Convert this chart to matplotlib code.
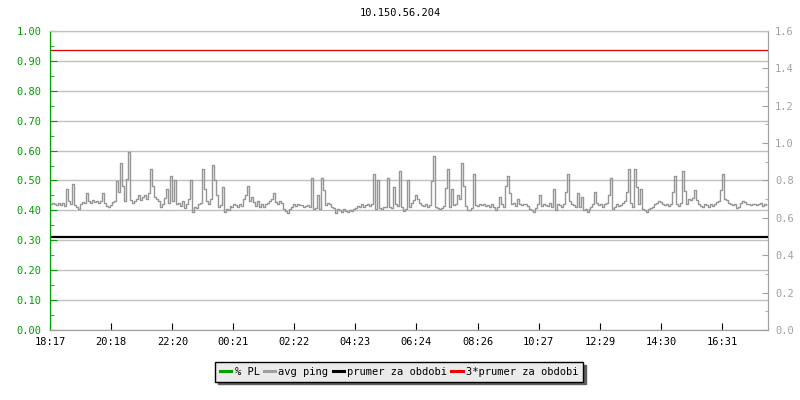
import numpy as np
import matplotlib
matplotlib.use('Agg')
from matplotlib import pyplot as plt
from matplotlib.ticker import MultipleLocator, FormatStrFormatter

title = '10.150.56.204'
tick_labels = ['18:17', '20:18', '22:20', '00:21', '02:22', '04:23',
               '06:24', '08:26', '10:27', '12:29', '14:30', '16:31']
tick_minutes = [0, 121, 243, 364, 485, 606, 727, 849, 970, 1092, 1213, 1334]
span_minutes = 1425

# avg ping [ms] (right axis)
ping_ms = [
    0.672, 0.680, 0.675, 0.668, 0.682, 0.670, 0.678, 0.665, 0.752, 0.690, 0.672, 0.781,
    0.668, 0.660, 0.645, 0.675, 0.685, 0.678, 0.731, 0.690, 0.682, 0.695, 0.685, 0.690,
    0.682, 0.688, 0.735, 0.680, 0.665, 0.658, 0.670, 0.685, 0.690, 0.799, 0.740, 0.894,
    0.770, 0.690, 0.806, 0.951, 0.695, 0.678, 0.690, 0.700, 0.720, 0.695, 0.710, 0.725,
    0.700, 0.735, 0.862, 0.770, 0.710, 0.700, 0.692, 0.660, 0.672, 0.705, 0.752, 0.680,
    0.824, 0.690, 0.802, 0.672, 0.680, 0.665, 0.690, 0.655, 0.672, 0.700, 0.802, 0.630,
    0.660, 0.655, 0.672, 0.680, 0.862, 0.752, 0.690, 0.672, 0.700, 0.883, 0.802, 0.720,
    0.660, 0.668, 0.765, 0.630, 0.650, 0.642, 0.665, 0.660, 0.672, 0.670, 0.660, 0.675,
    0.665, 0.700, 0.722, 0.770, 0.690, 0.710, 0.685, 0.665, 0.692, 0.660, 0.675, 0.660,
    0.675, 0.680, 0.690, 0.700, 0.731, 0.685, 0.675, 0.690, 0.680, 0.650, 0.635, 0.628,
    0.645, 0.660, 0.672, 0.665, 0.675, 0.668, 0.670, 0.660, 0.665, 0.670, 0.660, 0.813,
    0.650, 0.655, 0.720, 0.648, 0.813, 0.750, 0.670, 0.680, 0.672, 0.660, 0.652, 0.628,
    0.645, 0.640, 0.632, 0.645, 0.638, 0.632, 0.640, 0.635, 0.648, 0.655, 0.665, 0.658,
    0.672, 0.660, 0.668, 0.675, 0.665, 0.675, 0.835, 0.645, 0.802, 0.655, 0.645, 0.660,
    0.660, 0.813, 0.660, 0.655, 0.765, 0.672, 0.662, 0.851, 0.660, 0.635, 0.650, 0.800,
    0.660, 0.680, 0.695, 0.722, 0.700, 0.680, 0.670, 0.665, 0.672, 0.660, 0.668, 0.799,
    0.931, 0.660, 0.652, 0.645, 0.655, 0.665, 0.760, 0.862, 0.660, 0.752, 0.668, 0.672,
    0.722, 0.700, 0.894, 0.770, 0.665, 0.642, 0.640, 0.655, 0.835, 0.670, 0.665, 0.672,
    0.668, 0.675, 0.662, 0.670, 0.660, 0.672, 0.658, 0.640, 0.660, 0.713, 0.675, 0.660,
    0.770, 0.824, 0.731, 0.672, 0.680, 0.665, 0.700, 0.672, 0.668, 0.675, 0.672, 0.662,
    0.648, 0.640, 0.630, 0.655, 0.672, 0.720, 0.665, 0.672, 0.670, 0.665, 0.680, 0.660,
    0.754, 0.640, 0.672, 0.668, 0.660, 0.675, 0.740, 0.835, 0.690, 0.672, 0.668, 0.660,
    0.731, 0.660, 0.713, 0.640, 0.645, 0.632, 0.645, 0.660, 0.675, 0.740, 0.680, 0.668,
    0.672, 0.660, 0.675, 0.680, 0.720, 0.813, 0.650, 0.660, 0.675, 0.665, 0.670, 0.680,
    0.690, 0.740, 0.862, 0.680, 0.660, 0.862, 0.765, 0.672, 0.754, 0.645, 0.640, 0.632,
    0.645, 0.655, 0.660, 0.672, 0.680, 0.690, 0.685, 0.672, 0.668, 0.675, 0.665, 0.672,
    0.740, 0.824, 0.672, 0.665, 0.680, 0.851, 0.745, 0.672, 0.700, 0.695, 0.704, 0.750,
    0.695, 0.672, 0.665, 0.660, 0.672, 0.668, 0.660, 0.672, 0.665, 0.675, 0.685, 0.690,
    0.750, 0.835, 0.700, 0.695, 0.680, 0.672, 0.668, 0.672, 0.655, 0.660, 0.680, 0.688,
    0.685, 0.675, 0.672, 0.668, 0.672, 0.675, 0.668, 0.672, 0.680, 0.665, 0.672, 0.668,
]
prumer_ms = 0.5

green = '#00a000'
gray_ax = '#a0a0a0'
grid_c = '#c0c0c0'
font = 'DejaVu Sans Mono'
fs = 7.5
plt.rcParams['font.family'] = font
plt.rcParams['font.size'] = fs

fig = plt.figure(figsize=(8, 4), dpi=100)
ax = fig.add_axes([50/800, 1-330/400, 718/800, 299/400])
ax2 = ax.twinx()

ax.set_xlim(0, span_minutes)
ax.set_ylim(0, 1.0)
ax2.set_ylim(0, 1.6)

ax.yaxis.set_major_locator(MultipleLocator(0.1))
ax.yaxis.set_minor_locator(MultipleLocator(0.05))
ax.yaxis.set_major_formatter(FormatStrFormatter('%.2f'))
ax.grid(axis='y', color=grid_c, lw=1)
ax.set_axisbelow(True)

ax2.yaxis.set_major_locator(MultipleLocator(0.2))
ax2.yaxis.set_minor_locator(MultipleLocator(0.1))
ax2.yaxis.set_major_formatter(FormatStrFormatter('%.1f'))

ax.set_xticks(tick_minutes)
ax.set_xticklabels(tick_labels)

ax.tick_params(axis='y', which='major', direction='in', length=5, color=green,
               labelcolor=green, pad=6)
ax.tick_params(axis='y', which='minor', direction='in', length=3, color=green)
ax.tick_params(axis='x', direction='in', length=5, color='black', pad=5)
ax2.tick_params(axis='y', which='major', direction='in', length=4, color=gray_ax,
                labelcolor=gray_ax, pad=5)
ax2.tick_params(axis='y', which='minor', direction='in', length=2, color=gray_ax)

for a in (ax, ax2):
    a.spines['top'].set_color(grid_c)
    a.spines['bottom'].set_color(gray_ax)
    a.spines['right'].set_color(gray_ax)
    a.spines['left'].set_color(green)

x = np.linspace(0, span_minutes, len(ping_ms), endpoint=False)
ax2.plot(x, ping_ms, color='#969696', lw=1.0, drawstyle='steps-post')
ax2.axhline(prumer_ms, color='black', lw=1.6)
ax2.axhline(3 * prumer_ms, color='#e00000', lw=0.9)

fig.text(0.5, 1-13/400, title, ha='center', va='center', fontsize=fs)

handles = [
    plt.Line2D([], [], color=green, lw=2.2),
    plt.Line2D([], [], color='#a0a0a0', lw=2.2),
    plt.Line2D([], [], color='black', lw=2.2),
    plt.Line2D([], [], color='#f00000', lw=2.2),
]
labels = ['% PL', 'avg ping', 'prumer za obdobi', '3*prumer za obdobi']
leg = fig.legend(handles, labels, loc='center', bbox_to_anchor=(0.499, 1-372/400),
                 ncol=4, fancybox=False, frameon=True, fontsize=fs,
                 handlelength=1.1, handletextpad=0.3, columnspacing=0.4,
                 borderpad=0.45, borderaxespad=0,
                 shadow={'color': '#606060', 'alpha': 1})
leg.get_frame().set_facecolor('#ebebeb')
leg.get_frame().set_edgecolor('black')
leg.get_frame().set_linewidth(1)
leg.get_frame().set_alpha(1)

fig.savefig('out.png', dpi=100)
